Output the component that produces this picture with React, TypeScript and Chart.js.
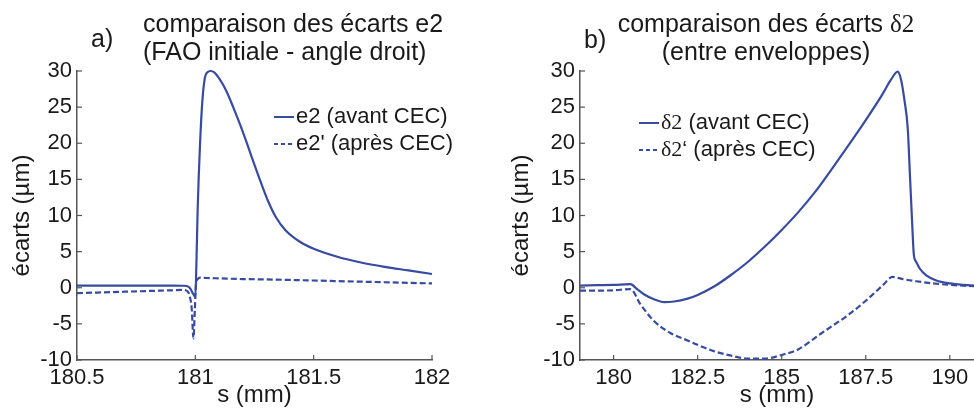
import React, { useEffect, useRef } from 'react';
import { Chart, registerables } from 'chart.js';

Chart.register(...registerables);

const BLUE = '#374ba0';
const AXIS = '#555555';
const TEXT = '#1a1a1a';
const SANS = '"Liberation Sans", Arial, Helvetica, sans-serif';
const SERIF = '"Liberation Serif", "DejaVu Serif", serif';

// ---------- shared y axis ----------
const Y_TICKS = [-10, -5, 0, 5, 10, 15, 20, 25, 30];
const Y_TITLE = 'écarts (µm)';
const X_TITLE = 's (mm)';

// ---------- panel a ----------
const A_TAG = 'a)';
const A_TITLE = ['comparaison des écarts e2', '(FAO initiale - angle droit)'];
const A_X_TICKS = [180.5, 181, 181.5, 182];
const A_X_LABELS = ['180.5', '181', '181.5', '182'];
const A_LABEL_AVANT = 'e2 (avant CEC)';
const A_LABEL_APRES = "e2' (après CEC)";
const A_S_AVANT = [180.5, 180.6, 180.7, 180.8, 180.9, 180.95, 180.97, 180.98, 180.99, 181.0, 181.005, 181.01, 181.02, 181.03, 181.04, 181.05, 181.065, 181.08, 181.1, 181.13, 181.16, 181.19, 181.22, 181.25, 181.28, 181.31, 181.34, 181.38, 181.44, 181.5, 181.6, 181.7, 181.8, 181.9, 182.0];
const A_E2_AVANT = [0.3, 0.3, 0.3, 0.3, 0.3, 0.28, 0.15, -0.2, -0.8, -1.3, 4, 11, 20, 26, 29, 29.8, 30, 29.8, 29.0, 27.3, 25.0, 22.5, 19.8, 17.0, 14.3, 11.8, 9.8, 8.0, 6.4, 5.4, 4.3, 3.5, 2.9, 2.4, 1.9];
const A_S_APRES = [180.5, 180.6, 180.7, 180.8, 180.9, 180.95, 180.965, 180.975, 180.985, 180.992, 180.998, 181.003, 181.01, 181.02, 181.05, 181.1, 181.2, 181.3, 181.5, 181.75, 182.0];
const A_E2_APRES = [-0.75, -0.65, -0.55, -0.45, -0.35, -0.3, -0.45, -1.0, -3.0, -7.0, -3.0, 0.5, 1.2, 1.4, 1.35, 1.3, 1.2, 1.15, 1.0, 0.8, 0.6];

// ---------- panel b ----------
const B_TAG = 'b)';
const B_TITLE = ['comparaison des écarts δ2', '(entre enveloppes)'];
const B_X_TICKS = [180, 182.5, 185, 187.5, 190];
const B_X_LABELS = ['180', '182.5', '185', '187.5', '190'];
const B_LABEL_AVANT = 'δ2 (avant CEC)';
const B_LABEL_APRES = 'δ2‘ (après CEC)';
const B_S_AVANT = [179, 179.5, 180, 180.5, 180.7, 180.9, 181.2, 181.5, 181.8, 182.2, 182.5, 183, 183.5, 184, 184.5, 185, 185.5, 186, 186.5, 187, 187.5, 188, 188.25, 188.45, 188.55, 188.65, 188.75, 188.82, 188.88, 188.93, 189.0, 189.1, 189.3, 189.6, 190, 190.4, 190.75];
const B_D2_AVANT = [0.3, 0.35, 0.4, 0.5, -0.2, -0.9, -1.6, -2.0, -1.9, -1.5, -1.0, 0.2, 1.8, 3.6, 5.7, 8.0, 10.5, 13.3, 16.5, 19.8, 23.2, 26.8, 28.8, 29.9, 28.8, 26.0, 22.0, 15.0, 9.0, 4.6, 3.6, 2.7, 1.7, 1.0, 0.6, 0.4, 0.3];
const B_S_APRES = [179, 179.5, 180, 180.5, 180.8, 181.2, 181.7, 182.2, 182.5, 183, 183.5, 184, 184.5, 185, 185.5, 186.15, 186.5, 187, 187.5, 188, 188.3, 188.6, 189, 189.5, 190, 190.75];
const B_D2_APRES = [-0.4, -0.4, -0.35, -0.2, -2.3, -4.6, -6.3, -7.3, -7.9, -8.8, -9.4, -9.8, -9.8, -9.3, -8.5, -6.4, -5.3, -3.7, -1.8, 0.3, 1.5, 1.2, 0.9, 0.6, 0.4, 0.2];

function drawRich(ctx: CanvasRenderingContext2D, text: string, x: number, y: number, size: number, align: string) {
  const parts = text.split(/(δ2)/).filter((p) => p.length > 0);
  const runs = parts.map((t) => ({ t, serif: t === 'δ2', w: 0 }));
  let total = 0;
  runs.forEach((r) => {
    ctx.font = `${size}px ${r.serif ? SERIF : SANS}`;
    r.w = ctx.measureText(r.t).width;
    total += r.w;
  });
  let cx = align === 'center' ? x - total / 2 : align === 'right' ? x - total : x;
  ctx.textAlign = 'left';
  runs.forEach((r) => {
    ctx.font = `${size}px ${r.serif ? SERIF : SANS}`;
    ctx.fillText(r.t, cx, y);
    cx += r.w;
  });
}

const panelPlugin = {
  id: 'panelDeco',
  afterDatasetsDraw(chart: any, _args: any, opts: any) {
    const ctx: CanvasRenderingContext2D = chart.ctx;
    const { left, bottom } = chart.chartArea;
    const xs = chart.scales.x;
    const ys = chart.scales.y;
    ctx.save();
    // inward tick marks
    ctx.strokeStyle = AXIS;
    ctx.lineWidth = 1.2;
    ctx.setLineDash([]);
    xs.ticks.forEach((t: any) => {
      const px = xs.getPixelForValue(t.value);
      ctx.beginPath();
      ctx.moveTo(px, bottom);
      ctx.lineTo(px, bottom - 5);
      ctx.stroke();
    });
    ys.ticks.forEach((t: any) => {
      const py = ys.getPixelForValue(t.value);
      ctx.beginPath();
      ctx.moveTo(left, py);
      ctx.lineTo(left + 5, py);
      ctx.stroke();
    });
    // tag and title
    ctx.fillStyle = TEXT;
    ctx.textBaseline = 'alphabetic';
    drawRich(ctx, opts.tag, opts.tagX, opts.tagY, 25, 'left');
    opts.title.forEach((line: string, i: number) => {
      drawRich(ctx, line, opts.titleX, opts.titleY[i], 25, opts.titleAlign);
    });
    // legend
    chart.data.datasets.forEach((ds: any, i: number) => {
      const y = opts.legendY[i];
      ctx.strokeStyle = ds.borderColor;
      ctx.lineWidth = 2;
      ctx.setLineDash(i === 0 ? [] : [4, 3]);
      ctx.beginPath();
      ctx.moveTo(opts.legendX, y);
      ctx.lineTo(opts.legendX + 20, y);
      ctx.stroke();
      ctx.setLineDash([]);
      ctx.fillStyle = TEXT;
      ctx.textBaseline = 'middle';
      drawRich(ctx, ds.label, opts.legendX + 22, y, 22, 'left');
    });
    ctx.restore();
  },
};

function makeConfig(p: any) {
  const mk = (xsArr: number[], ysArr: number[]) => xsArr.map((x, i) => ({ x, y: ysArr[i] }));
  return {
    type: 'line',
    data: {
      datasets: [
        {
          label: p.labelAvant,
          data: mk(p.sAvant, p.vAvant),
          borderColor: BLUE,
          borderWidth: 2.2,
          pointRadius: 0,
          fill: false,
          cubicInterpolationMode: 'monotone',
          clip: false,
        },
        {
          label: p.labelApres,
          data: mk(p.sApres, p.vApres),
          borderColor: BLUE,
          borderWidth: 2.2,
          borderDash: [6, 3],
          pointRadius: 0,
          fill: false,
          cubicInterpolationMode: 'monotone',
          clip: false,
        },
      ],
    },
    options: {
      animation: false,
      responsive: false,
      maintainAspectRatio: false,
      events: [],
      layout: { padding: { left: 0, top: 71, right: p.padRight, bottom: 0 } },
      plugins: {
        legend: { display: false },
        tooltip: { enabled: false },
        title: { display: false },
        panelDeco: p.deco,
      },
      scales: {
        x: {
          type: 'linear',
          min: p.xMin,
          max: p.xMax,
          grid: { display: true, drawOnChartArea: false, drawTicks: false },
          border: { display: true, color: AXIS, width: 1.5 },
          afterBuildTicks: (s: any) => {
            s.ticks = p.xTicks.map((v: number) => ({ value: v }));
          },
          afterFit: (s: any) => {
            s.height = 50;
            s.paddingLeft = 0;
            s.paddingRight = 0;
          },
          ticks: {
            color: TEXT,
            padding: 5,
            maxRotation: 0,
            autoSkip: false,
            font: { family: SANS, size: 22 },
            callback: (v: number) => {
              const i = p.xTicks.indexOf(v);
              return i >= 0 ? p.xLabels[i] : '';
            },
          },
          title: {
            display: true,
            text: X_TITLE,
            color: TEXT,
            font: { family: SANS, size: 24 },
            padding: { top: 0, bottom: 0 },
          },
        },
        y: {
          type: 'linear',
          min: -10,
          max: 30,
          grid: { display: true, drawOnChartArea: false, drawTicks: false },
          border: { display: true, color: AXIS, width: 1.5 },
          afterBuildTicks: (s: any) => {
            s.ticks = Y_TICKS.map((v) => ({ value: v }));
          },
          afterFit: (s: any) => {
            s.width = p.yWidth;
            s.paddingTop = 0;
            s.paddingBottom = 0;
          },
          ticks: {
            color: TEXT,
            padding: 5,
            autoSkip: false,
            font: { family: SANS, size: 22 },
            callback: (v: number) => String(v),
          },
          title: {
            display: true,
            text: Y_TITLE,
            color: TEXT,
            font: { family: SANS, size: 24 },
            padding: { top: p.yTitlePad, bottom: 0 },
          },
        },
      },
    },
    plugins: [panelPlugin],
  };
}

const PANEL_A = {
  sAvant: A_S_AVANT, vAvant: A_E2_AVANT, sApres: A_S_APRES, vApres: A_E2_APRES,
  labelAvant: A_LABEL_AVANT, labelApres: A_LABEL_APRES,
  xMin: 180.5, xMax: 182, xTicks: A_X_TICKS, xLabels: A_X_LABELS,
  padRight: 55, yWidth: 77, yTitlePad: 8,
  deco: {
    tag: A_TAG, tagX: 91, tagY: 47,
    title: A_TITLE, titleX: 143, titleY: [32, 60], titleAlign: 'left',
    legendX: 274, legendY: [117, 144],
  },
};

const PANEL_B = {
  sAvant: B_S_AVANT, vAvant: B_D2_AVANT, sApres: B_S_APRES, vApres: B_D2_APRES,
  labelAvant: B_LABEL_AVANT, labelApres: B_LABEL_APRES,
  xMin: 179, xMax: 190.72, xTicks: B_X_TICKS, xLabels: B_X_LABELS,
  padRight: 0, yWidth: 93, yTitlePad: 20,
  deco: {
    tag: B_TAG, tagX: 97, tagY: 48,
    title: B_TITLE, titleX: 279, titleY: [32, 60], titleAlign: 'center',
    legendX: 152, legendY: [123, 150],
  },
};

export default function App() {
  const refA = useRef<HTMLCanvasElement | null>(null);
  const refB = useRef<HTMLCanvasElement | null>(null);

  useEffect(() => {
    const charts: Chart[] = [];
    if (refA.current) charts.push(new Chart(refA.current, makeConfig(PANEL_A) as any));
    if (refB.current) charts.push(new Chart(refB.current, makeConfig(PANEL_B) as any));
    return () => charts.forEach((c) => c.destroy());
  }, []);

  return (
    <div style={{ position: 'absolute', left: 0, top: 0, width: 974, height: 410, background: '#ffffff', overflow: 'hidden' }}>
      <canvas ref={refA} width={487} height={410} style={{ position: 'absolute', left: 0, top: 0, width: 487, height: 410 }} />
      <canvas ref={refB} width={487} height={410} style={{ position: 'absolute', left: 487, top: 0, width: 487, height: 410 }} />
    </div>
  );
}
